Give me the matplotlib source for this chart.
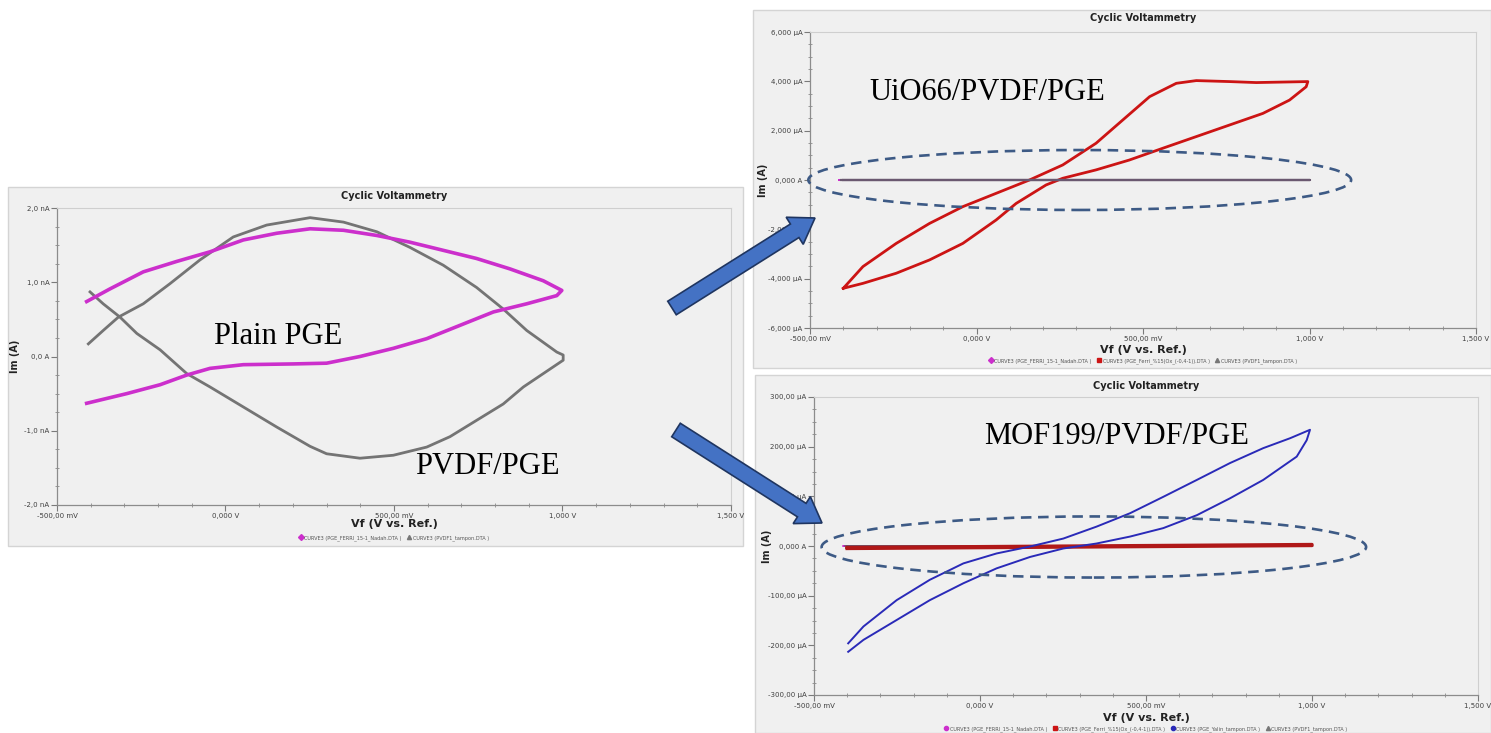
import numpy as np
import matplotlib
matplotlib.use("Agg")
import matplotlib.pyplot as plt
from matplotlib.patches import Rectangle, Ellipse, FancyArrow
from matplotlib.lines import Line2D
from matplotlib.ticker import AutoMinorLocator

# ---- data ----
# left panel, Plain PGE (V, nA)
plain_v = [-0.412, -0.343, -0.244, -0.145, -0.046, 0.053, 0.152, 0.251, 0.350, 0.449, 0.547, 0.646,
           0.745, 0.844, 0.943, 0.998, 0.983, 0.894, 0.795, 0.696, 0.597, 0.498, 0.399, 0.300,
           0.201, 0.053, -0.046, -0.115, -0.194, -0.293, -0.412]
plain_i = [0.74, 0.91, 1.14, 1.28, 1.41, 1.57, 1.66, 1.72, 1.70, 1.63, 1.54, 1.43,
           1.32, 1.18, 1.02, 0.89, 0.82, 0.71, 0.60, 0.42, 0.24, 0.11, 0.00, -0.09,
           -0.10, -0.11, -0.16, -0.25, -0.38, -0.50, -0.63]
# left panel, PVDF/PGE (V, nA)
pvdf_v = [-0.407, -0.363, -0.318, -0.244, -0.165, -0.076, 0.023, 0.122, 0.251, 0.350, 0.449, 0.547,
          0.646, 0.745, 0.824, 0.894, 0.983, 1.002, 1.002, 0.943, 0.884, 0.824, 0.745, 0.666,
          0.597, 0.498, 0.399, 0.300, 0.251, 0.152, 0.053, -0.046, -0.115, -0.194, -0.263,
          -0.313, -0.363, -0.402]
pvdf_i = [0.17, 0.35, 0.53, 0.71, 0.98, 1.30, 1.61, 1.77, 1.87, 1.81, 1.68, 1.47,
          1.23, 0.93, 0.64, 0.35, 0.06, 0.02, -0.05, -0.23, -0.41, -0.64, -0.86, -1.08,
          -1.22, -1.33, -1.37, -1.31, -1.21, -0.95, -0.68, -0.41, -0.23, 0.09, 0.31,
          0.53, 0.71, 0.87]

# top right panel, UiO66/PVDF/PGE (V, uA)
uio_v = [-0.400, -0.341, -0.241, -0.141, -0.041, 0.059, 0.159, 0.259, 0.359, 0.439, 0.520, 0.600,
         0.660, 0.760, 0.840, 0.995, 0.990, 0.940, 0.860, 0.760, 0.660, 0.560, 0.459, 0.359,
         0.259, 0.209, 0.119, 0.059, -0.041, -0.141, -0.241, -0.341, -0.400]
uio_i = [-4390, -3510, -2570, -1760, -1080, -540, 0, 610, 1490, 2430, 3380, 3920,
         4030, 3990, 3950, 3990, 3780, 3240, 2700, 2230, 1760, 1290, 810, 410,
         70, -200, -950, -1620, -2570, -3240, -3780, -4190, -4390]

# bottom right panel, MOF199/PVDF/PGE (V, uA)
mof_v = [-0.397, -0.351, -0.251, -0.151, -0.050, 0.050, 0.151, 0.251, 0.351, 0.452, 0.552, 0.653,
         0.753, 0.853, 0.934, 0.994, 0.984, 0.954, 0.853, 0.753, 0.653, 0.552, 0.452, 0.351,
         0.251, 0.151, 0.050, -0.050, -0.151, -0.251, -0.351, -0.397]
mof_i = [-196, -162, -109, -68, -35, -15, -1, 15, 39, 66, 99, 133,
         167, 197, 217, 234, 213, 180, 133, 96, 62, 36, 19, 5,
         -5, -22, -45, -75, -109, -149, -189, -213]
# red trace that looks flat in the MOF199 panel (V, uA)
ferri_v = [-0.40, 0.30, 1.00, 1.00, 0.30, -0.40]
ferri_i = [-3, 0, 3, 1, -2, -5]

xticks = [-0.5, 0.0, 0.5, 1.0, 1.5]
xtick_labels = ["-500,00 mV", "0,000 V", "500,00 mV", "1,000 V", "1,500 V"]
left_yticks = [-2.0, -1.0, 0.0, 1.0, 2.0]
left_ylabels = ["-2,0 nA", "-1,0 nA", "0,0 A", "1,0 nA", "2,0 nA"]
uio_yticks = [-6000, -4000, -2000, 0, 2000, 4000, 6000]
uio_ylabels = ["-6,000 µA", "-4,000 µA", "-2,000 µA", "0,000 A", "2,000 µA", "4,000 µA", "6,000 µA"]
mof_yticks = [-300, -200, -100, 0, 100, 200, 300]
mof_ylabels = ["-300,00 µA", "-200,00 µA", "-100,00 µA", "0,000 A", "100,00 µA", "200,00 µA", "300,00 µA"]

leg_plain = "CURVE3 (PGE_FERRI_15-1_Nadah.DTA )"
leg_pvdf = "CURVE3 (PVDF1_tampon.DTA )"
leg_ferri = "CURVE3 (PGE_Ferri_%15(Ox_(-0,4-1)).DTA )"
leg_mof = "CURVE3 (PGE_Yalin_tampon.DTA )"

c_plain = "#cc2fcc"
c_pvdf = "#5e5e5e"
c_ferri = "#cc1414"
c_mof = "#2a2ab8"
c_flat = "#6a5870"

W, H = 1491, 733
fig = plt.figure(figsize=(W / 100, H / 100), dpi=100)
fig.patch.set_facecolor("white")


def fx(x):
    return x / W


def fy(y):
    return 1 - y / H


def panel(x0, y0, x1, y1):
    fig.patches.append(Rectangle((fx(x0), fy(y1)), fx(x1 - x0), (y1 - y0) / H,
                                 transform=fig.transFigure, facecolor="#f0f0f0",
                                 edgecolor="#d4d4d4", lw=1.0, zorder=-5))


def make_axes(x0, y0, x1, y1, yticks, ylabels, ylim, minor_y):
    ax = fig.add_axes([fx(x0), fy(y1), fx(x1 - x0), (y1 - y0) / H], zorder=1)
    ax.set_facecolor("#f0f0f0")
    ax.set_xlim(-0.5, 1.5)
    ax.set_ylim(*ylim)
    ax.set_xticks(xticks)
    ax.set_xticklabels(xtick_labels)
    ax.set_yticks(yticks)
    ax.set_yticklabels(ylabels)
    ax.xaxis.set_minor_locator(AutoMinorLocator(5))
    ax.yaxis.set_minor_locator(AutoMinorLocator(minor_y))
    ax.tick_params(which="major", length=4, width=0.8, color="#7a7a7a",
                   labelsize=5, labelcolor="#404040", pad=1.5)
    ax.tick_params(which="minor", length=2.5, width=0.6, color="#8a8a8a", direction="inout")
    for s in ["left", "bottom"]:
        ax.spines[s].set_color("#8c8c8c")
        ax.spines[s].set_linewidth(0.9)
    for s in ["top", "right"]:
        ax.spines[s].set_color("#cfcfcf")
        ax.spines[s].set_linewidth(0.8)
    return ax


def labels(ax, x0, x1, title_y, xlabel_y, ylabel_x, y_mid, legend_y, handles):
    xc = (x0 + x1) / 2
    fig.text(fx(xc), fy(title_y), "Cyclic Voltammetry", fontsize=7, fontweight="bold",
             ha="center", va="center", color="#222222")
    fig.text(fx(xc), fy(xlabel_y), "Vf (V vs. Ref.)", fontsize=8, fontweight="bold",
             ha="center", va="center", color="#222222")
    fig.text(fx(ylabel_x), fy(y_mid), "Im (A)", fontsize=7, fontweight="bold", rotation=90,
             ha="center", va="center", color="#222222")
    fig.legend(handles=handles, loc="center", bbox_to_anchor=(fx(xc), fy(legend_y)),
               ncol=len(handles), fontsize=3.6, frameon=False, handlelength=0.6,
               handletextpad=0.4, columnspacing=1.2, borderpad=0, labelcolor="#555555")


def proxy(color, marker, text):
    return Line2D([], [], color=color, marker=marker, ls="none", markersize=3, label=text)


# ---- panels ----
panel(8, 187, 743, 546)
panel(753, 10, 1491, 368)
panel(755, 375, 1491, 733)

# left: plain PGE / PVDF
ax1 = make_axes(57, 208, 731, 505, left_yticks, left_ylabels, (-2.0, 2.0), 4)
ax1.plot(pvdf_v, pvdf_i, color=c_pvdf, lw=2.0, alpha=0.85)
ax1.plot(plain_v, plain_i, color=c_plain, lw=2.6)
labels(ax1, 57, 731, 196, 524, 15, 356, 538,
       [proxy(c_plain, "D", leg_plain), proxy("#777777", "^", leg_pvdf)])

# top right: UiO66
ax2 = make_axes(810, 32, 1476, 328, uio_yticks, uio_ylabels, (-6000, 6000), 4)
ax2.plot(uio_v, uio_i, color=c_ferri, lw=2.0)
ax2.plot(plain_v, np.array(plain_i) * 1e-3, color=c_plain, lw=1.2)
ax2.plot(pvdf_v, np.array(pvdf_i) * 1e-3, color=c_flat, lw=1.6)
ax2.add_patch(Ellipse((0.31, 0), 1.63, 2430, fill=False, edgecolor="#3d5a85",
                      lw=1.9, ls=(0, (4, 2.5)), clip_on=False, zorder=5))
labels(ax2, 810, 1476, 18, 350, 763, 180, 361,
       [proxy(c_plain, "D", leg_plain), proxy(c_ferri, "s", leg_ferri), proxy("#777777", "^", leg_pvdf)])

# bottom right: MOF199
ax3 = make_axes(814, 397, 1478, 695, mof_yticks, mof_ylabels, (-300, 300), 4)
ax3.plot(plain_v, np.array(plain_i) * 1e-3, color=c_plain, lw=1.0)
ax3.plot(pvdf_v, np.array(pvdf_i) * 1e-3, color=c_flat, lw=1.0)
ax3.plot(ferri_v, ferri_i, color="#b01818", lw=2.4)
ax3.plot(mof_v, mof_i, color=c_mof, lw=1.4)
ax3.add_patch(Ellipse((0.343, -2), 1.64, 123, fill=False, edgecolor="#3d5a85",
                      lw=1.9, ls=(0, (4, 2.5)), clip_on=False, zorder=5))
labels(ax3, 814, 1478, 386, 718, 767, 546, 729,
       [proxy(c_plain, "o", leg_plain), proxy(c_ferri, "s", leg_ferri),
        proxy(c_mof, "o", leg_mof), proxy("#777777", "^", leg_pvdf)])

# ---- overlay: arrows and sample names ----
ov = fig.add_axes([0, 0, 1, 1], zorder=10)
ov.set_xlim(0, W)
ov.set_ylim(H, 0)
ov.axis("off")

for (x0, y0, x1, y1) in [(672, 308, 815, 218), (676, 430, 822, 523)]:
    ov.add_patch(FancyArrow(x0, y0, x1 - x0, y1 - y0, width=16, head_width=32,
                            head_length=24, length_includes_head=True,
                            facecolor="#4472c4", edgecolor="#1f3560", lw=1.2))

serif = ["Liberation Serif", "DejaVu Serif"]
ov.text(278, 336, "Plain PGE", fontsize=22, family=serif, ha="center", va="center")
ov.text(487, 466, "PVDF/PGE", fontsize=22, family=serif, ha="center", va="center")
ov.text(987, 93, "UiO66/PVDF/PGE", fontsize=22, family=serif, ha="center", va="center")
ov.text(1117, 436, "MOF199/PVDF/PGE", fontsize=22, family=serif, ha="center", va="center")

fig.savefig("out.png", dpi=100)
